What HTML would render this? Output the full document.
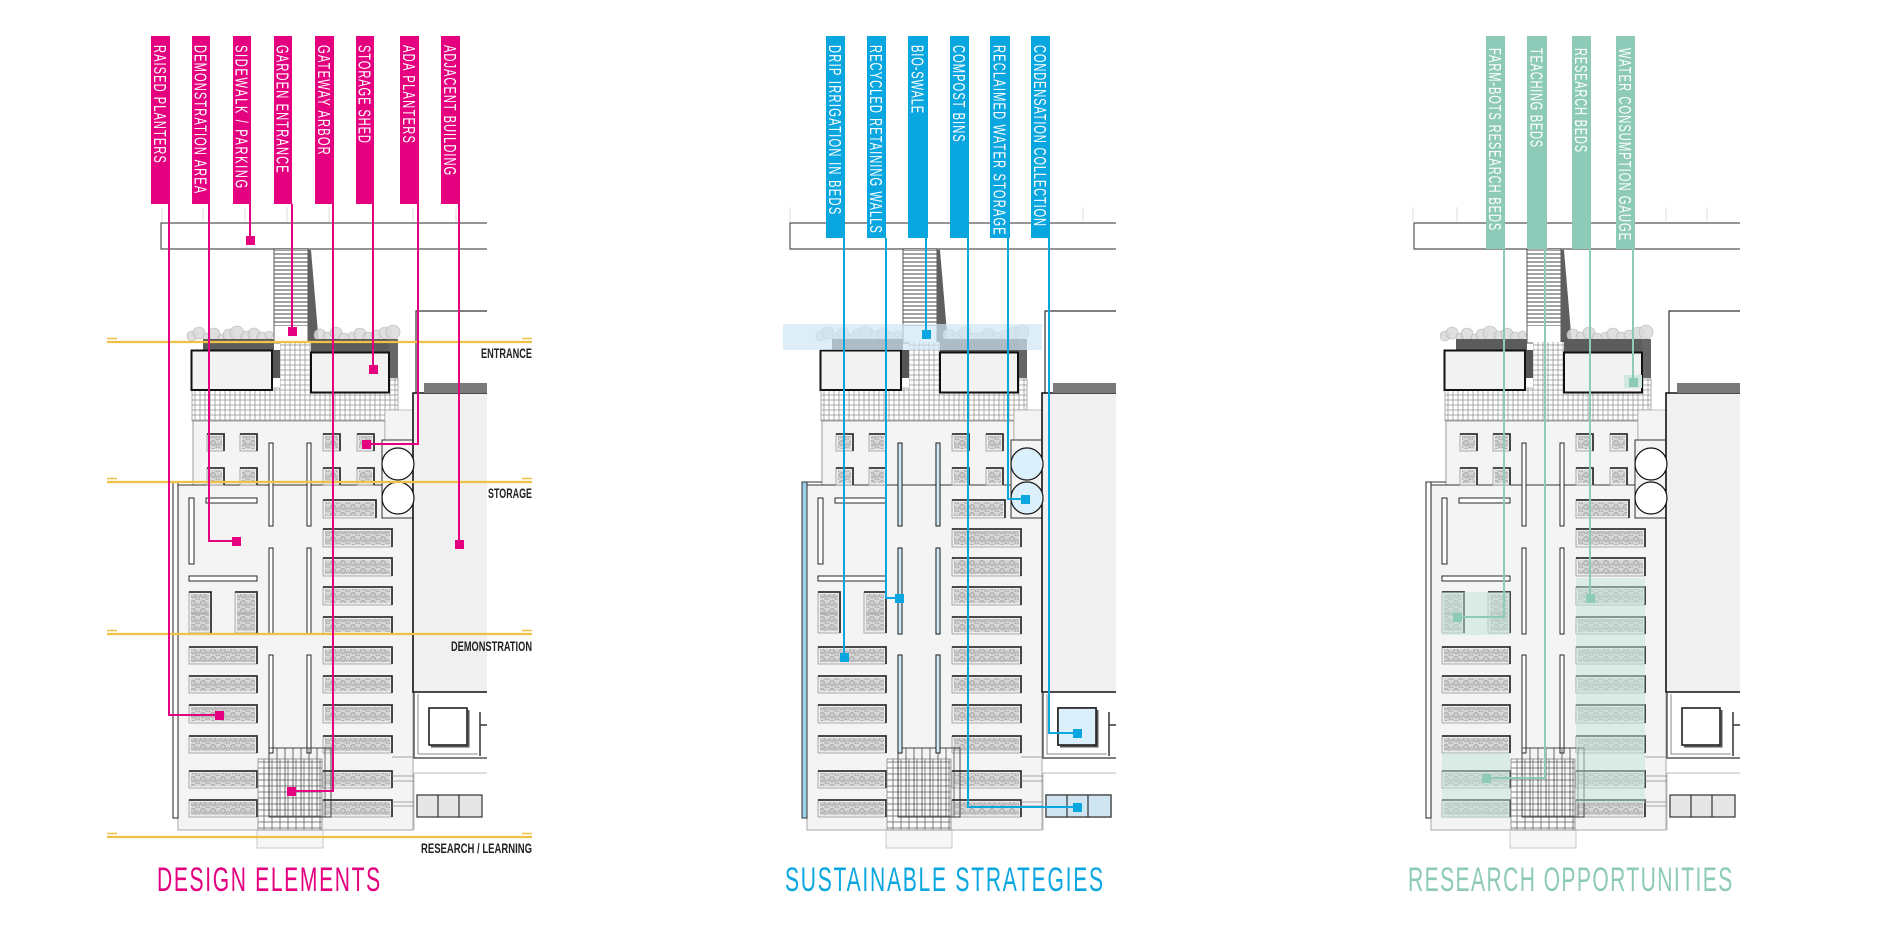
<!DOCTYPE html>
<html><head><meta charset="utf-8"><style>
html,body{margin:0;padding:0;background:#fff;}
svg{display:block;}
.vl{font-family:"Liberation Sans",sans-serif;font-size:18px;fill:#fff;}
.sec{font-family:"Liberation Sans",sans-serif;font-size:14px;font-weight:bold;fill:#222;}
.ttl{font-family:"Liberation Sans",sans-serif;font-size:34px;}
</style></head><body>
<svg width="1900" height="927" viewBox="0 0 1900 927" xmlns="http://www.w3.org/2000/svg">
<defs>
<pattern id="pave" width="5" height="5" patternUnits="userSpaceOnUse"><rect width="5" height="5" fill="#fff" stroke="#8c8c8c" stroke-width="0.7"/></pattern>
<pattern id="pave2" width="8" height="6" patternUnits="userSpaceOnUse"><rect width="8" height="6" fill="#fafafa" stroke="#666" stroke-width="0.8"/></pattern>
<pattern id="stairs" width="40" height="4" patternUnits="userSpaceOnUse"><rect width="40" height="4" fill="#fff"/><line x1="0" y1="2" x2="40" y2="2" stroke="#444" stroke-width="1"/></pattern>
<pattern id="tex" width="10" height="8" patternUnits="userSpaceOnUse"><rect width="10" height="8" fill="#d6d6d6"/><circle cx="3" cy="3" r="2.4" fill="#cbcbcb" stroke="#8f8f8f" stroke-width="0.6"/><circle cx="8" cy="6" r="2.2" fill="#cbcbcb" stroke="#9a9a9a" stroke-width="0.6"/></pattern>
<g id="plan">
  <path d="M487,223H161V249H487" fill="none" stroke="#555" stroke-width="1.2"/>
  <path d="M487,311H416V393" fill="none" stroke="#333" stroke-width="1.2"/>
  <rect x="274" y="249" width="34" height="94" fill="#fff" stroke="#333" stroke-width="0.8"/>
  <rect x="274.5" y="250" width="33" height="76" fill="url(#stairs)"/>
  <polygon points="308,250 311,250 319,345 308,345" fill="#5f5f5f"/>
  <g fill="#d9d9d9" fill-opacity="0.85" stroke="#b5b5b5" stroke-width="0.6">
    <circle cx="192" cy="336" r="5"/><circle cx="199" cy="333" r="6"/><circle cx="207" cy="337" r="4"/><circle cx="214" cy="334" r="6"/><circle cx="222" cy="338" r="4"/><circle cx="229" cy="335" r="6"/><circle cx="237" cy="333" r="7"/><circle cx="246" cy="336" r="5"/><circle cx="254" cy="334" r="6"/><circle cx="262" cy="337" r="5"/><circle cx="269" cy="335" r="4"/>
    <circle cx="320" cy="335" r="6"/><circle cx="328" cy="337" r="5"/><circle cx="336" cy="333" r="6"/><circle cx="344" cy="338" r="5"/><circle cx="352" cy="336" r="4"/><circle cx="360" cy="334" r="6"/><circle cx="368" cy="337" r="5"/><circle cx="376" cy="335" r="5"/><circle cx="385" cy="333" r="6"/><circle cx="393" cy="332" r="7"/>
  </g>
  <rect x="203" y="339" width="71" height="13" fill="#5c5c5c"/>
  <rect x="308" y="339" width="90" height="13" fill="#5c5c5c"/>
  <rect x="389" y="339" width="9" height="42" fill="#666"/>
  <rect x="272" y="350" width="8" height="28" fill="#555"/>
  <path d="M192,388H389V378H398V410H389V421H192Z" fill="url(#pave)" stroke="#777" stroke-width="0.6"/>
  <rect x="280" y="342" width="31" height="48" fill="url(#pave)"/>
  <rect x="191.5" y="350.5" width="80.5" height="39.5" fill="#f2f2f2" stroke="#111" stroke-width="2"/>
  <rect x="311" y="352.5" width="78" height="40" fill="#f2f2f2" stroke="#111" stroke-width="2"/>
  <rect x="193" y="421" width="192" height="64" fill="#f4f4f4" stroke="#888" stroke-width="0.8"/>
  <rect x="385" y="410" width="28" height="30" fill="#f4f4f4" stroke="#999" stroke-width="0.6"/>
  <rect x="178" y="485" width="235" height="345" fill="#f4f4f4" stroke="#aaa" stroke-width="1"/>
  <rect x="173" y="482" width="5" height="336" fill="#fff" stroke="#222" stroke-width="1"/>
  <path d="M173,482H193M178,485H382" fill="none" stroke="#333" stroke-width="1"/>
  <rect x="382" y="440" width="31" height="78" fill="#f4f4f4" stroke="#333" stroke-width="1"/>
  <rect x="413" y="393" width="74" height="299" fill="#f0f0f0"/>
  <path d="M487,393H413V692H487" fill="none" stroke="#111" stroke-width="1.6"/>
  <rect x="424" y="383" width="63" height="10" fill="#7a7a7a"/>
  <circle cx="398" cy="464" r="16" fill="#fff" stroke="#111" stroke-width="1.2"/>
  <circle cx="398" cy="498" r="16" fill="#fff" stroke="#111" stroke-width="1.2"/>
  <g>
    <rect x="207" y="434" width="17" height="17" fill="#ececec" stroke="#9a9a9a" stroke-width=".8"/><rect x="209" y="436" width="13" height="13" fill="url(#tex)"/><path d="M207,434H224V451" fill="none" stroke="#333" stroke-width="1.8"/>
    <rect x="240" y="434" width="17" height="17" fill="#ececec" stroke="#9a9a9a" stroke-width=".8"/><rect x="242" y="436" width="13" height="13" fill="url(#tex)"/><path d="M240,434H257V451" fill="none" stroke="#333" stroke-width="1.8"/>
    <rect x="323" y="434" width="17" height="17" fill="#ececec" stroke="#9a9a9a" stroke-width=".8"/><rect x="325" y="436" width="13" height="13" fill="url(#tex)"/><path d="M323,434H340V451" fill="none" stroke="#333" stroke-width="1.8"/>
    <rect x="357" y="434" width="17" height="17" fill="#ececec" stroke="#9a9a9a" stroke-width=".8"/><rect x="359" y="436" width="13" height="13" fill="url(#tex)"/><path d="M357,434H374V451" fill="none" stroke="#333" stroke-width="1.8"/>
    <rect x="207" y="468" width="17" height="17" fill="#ececec" stroke="#9a9a9a" stroke-width=".8"/><rect x="209" y="470" width="13" height="13" fill="url(#tex)"/><path d="M207,468H224V485" fill="none" stroke="#333" stroke-width="1.8"/>
    <rect x="240" y="468" width="17" height="17" fill="#ececec" stroke="#9a9a9a" stroke-width=".8"/><rect x="242" y="470" width="13" height="13" fill="url(#tex)"/><path d="M240,468H257V485" fill="none" stroke="#333" stroke-width="1.8"/>
    <rect x="323" y="468" width="17" height="17" fill="#ececec" stroke="#9a9a9a" stroke-width=".8"/><rect x="325" y="470" width="13" height="13" fill="url(#tex)"/><path d="M323,468H340V485" fill="none" stroke="#333" stroke-width="1.8"/>
    <rect x="357" y="468" width="17" height="17" fill="#ececec" stroke="#9a9a9a" stroke-width=".8"/><rect x="359" y="470" width="13" height="13" fill="url(#tex)"/><path d="M357,468H374V485" fill="none" stroke="#333" stroke-width="1.8"/>
  </g>
  <g fill="#fff" stroke="#111" stroke-width=".9">
    <rect x="269" y="443" width="4" height="83"/><rect x="307" y="443" width="4" height="83"/>
    <rect x="269" y="548" width="4" height="86"/><rect x="307" y="548" width="4" height="86"/>
    <rect x="269" y="655" width="4" height="98"/><rect x="307" y="655" width="4" height="98"/>
  </g>
  <g fill="#fff" stroke="#111" stroke-width=".9">
    <rect x="206" y="498" width="51" height="5"/>
    <rect x="189" y="498" width="5" height="66"/>
    <rect x="189" y="576" width="68" height="5"/>
  </g>
  <rect x="189" y="592" width="22" height="41" fill="#ececec" stroke="#9a9a9a" stroke-width=".8"/><rect x="191" y="594" width="18" height="37" fill="url(#tex)"/><path d="M191,614H209" stroke="#999" stroke-width=".8"/><path d="M189,592H211V633" fill="none" stroke="#333" stroke-width="1.8"/>
  <rect x="235" y="592" width="22" height="41" fill="#ececec" stroke="#9a9a9a" stroke-width=".8"/><rect x="237" y="594" width="18" height="37" fill="url(#tex)"/><path d="M237,614H255" stroke="#999" stroke-width=".8"/><path d="M235,592H257V633" fill="none" stroke="#333" stroke-width="1.8"/>
  <g>
    <rect x="323" y="500" width="53" height="18" fill="#ececec" stroke="#9a9a9a" stroke-width=".8"/><rect x="325" y="502" width="49" height="14" fill="url(#tex)"/><path d="M323,500H376V518" fill="none" stroke="#333" stroke-width="1.8"/>
    <rect x="323" y="529" width="69" height="18" fill="#ececec" stroke="#9a9a9a" stroke-width=".8"/><rect x="325" y="531" width="65" height="14" fill="url(#tex)"/><path d="M323,529H392V547" fill="none" stroke="#333" stroke-width="1.8"/>
    <rect x="323" y="558" width="69" height="18" fill="#ececec" stroke="#9a9a9a" stroke-width=".8"/><rect x="325" y="560" width="65" height="14" fill="url(#tex)"/><path d="M323,558H392V576" fill="none" stroke="#333" stroke-width="1.8"/>
    <rect x="323" y="587" width="69" height="18" fill="#ececec" stroke="#9a9a9a" stroke-width=".8"/><rect x="325" y="589" width="65" height="14" fill="url(#tex)"/><path d="M323,587H392V605" fill="none" stroke="#333" stroke-width="1.8"/>
    <rect x="323" y="617" width="69" height="17" fill="#ececec" stroke="#9a9a9a" stroke-width=".8"/><rect x="325" y="619" width="65" height="13" fill="url(#tex)"/><path d="M323,617H392V634" fill="none" stroke="#333" stroke-width="1.8"/>
    <rect x="323" y="647" width="69" height="17" fill="#ececec" stroke="#9a9a9a" stroke-width=".8"/><rect x="325" y="649" width="65" height="13" fill="url(#tex)"/><path d="M323,647H392V664" fill="none" stroke="#333" stroke-width="1.8"/>
    <rect x="323" y="676" width="69" height="17" fill="#ececec" stroke="#9a9a9a" stroke-width=".8"/><rect x="325" y="678" width="65" height="13" fill="url(#tex)"/><path d="M323,676H392V693" fill="none" stroke="#333" stroke-width="1.8"/>
    <rect x="323" y="705" width="69" height="18" fill="#ececec" stroke="#9a9a9a" stroke-width=".8"/><rect x="325" y="707" width="65" height="14" fill="url(#tex)"/><path d="M323,705H392V723" fill="none" stroke="#333" stroke-width="1.8"/>
    <rect x="323" y="736" width="69" height="17" fill="#ececec" stroke="#9a9a9a" stroke-width=".8"/><rect x="325" y="738" width="65" height="13" fill="url(#tex)"/><path d="M323,736H392V753" fill="none" stroke="#333" stroke-width="1.8"/>
    <rect x="323" y="771" width="69" height="17" fill="#ececec" stroke="#9a9a9a" stroke-width=".8"/><rect x="325" y="773" width="65" height="13" fill="url(#tex)"/><path d="M323,771H392V788" fill="none" stroke="#333" stroke-width="1.8"/>
    <rect x="323" y="800" width="69" height="17" fill="#ececec" stroke="#9a9a9a" stroke-width=".8"/><rect x="325" y="802" width="65" height="13" fill="url(#tex)"/><path d="M323,800H392V817" fill="none" stroke="#333" stroke-width="1.8"/>
  </g>
  <g>
    <rect x="189" y="647" width="68" height="17" fill="#ececec" stroke="#9a9a9a" stroke-width=".8"/><rect x="191" y="649" width="64" height="13" fill="url(#tex)"/><path d="M189,647H257V664" fill="none" stroke="#333" stroke-width="1.8"/>
    <rect x="189" y="676" width="68" height="17" fill="#ececec" stroke="#9a9a9a" stroke-width=".8"/><rect x="191" y="678" width="64" height="13" fill="url(#tex)"/><path d="M189,676H257V693" fill="none" stroke="#333" stroke-width="1.8"/>
    <rect x="189" y="705" width="68" height="18" fill="#ececec" stroke="#9a9a9a" stroke-width=".8"/><rect x="191" y="707" width="64" height="14" fill="url(#tex)"/><path d="M189,705H257V723" fill="none" stroke="#333" stroke-width="1.8"/>
    <rect x="189" y="736" width="68" height="17" fill="#ececec" stroke="#9a9a9a" stroke-width=".8"/><rect x="191" y="738" width="64" height="13" fill="url(#tex)"/><path d="M189,736H257V753" fill="none" stroke="#333" stroke-width="1.8"/>
    <rect x="189" y="771" width="68" height="17" fill="#ececec" stroke="#9a9a9a" stroke-width=".8"/><rect x="191" y="773" width="64" height="13" fill="url(#tex)"/><path d="M189,771H257V788" fill="none" stroke="#333" stroke-width="1.8"/>
    <rect x="189" y="800" width="68" height="17" fill="#ececec" stroke="#9a9a9a" stroke-width=".8"/><rect x="191" y="802" width="64" height="13" fill="url(#tex)"/><path d="M189,800H257V817" fill="none" stroke="#333" stroke-width="1.8"/>
  </g>
  <rect x="257" y="830" width="66" height="18" fill="#f7f7f7" stroke="#bbb" stroke-width="0.8"/>
  <rect x="258" y="759" width="64" height="71" fill="url(#pave2)" stroke="#888" stroke-width=".8"/>
  <rect x="269" y="748" width="62" height="69" fill="none" stroke="#333" stroke-width="0.9"/>
  <path d="M277,748V817M285,748V817M293,748V817M301,748V817M309,748V817M317,748V817M325,748V817" stroke="#333" stroke-width="0.7"/>
  <path d="M414,692V758H487" fill="none" stroke="#333" stroke-width="1.2"/>
  <path d="M418,694V754H478" fill="none" stroke="#666" stroke-width="0.8"/>
  <path d="M480,712V756M480,725H487" fill="none" stroke="#333" stroke-width="1.5"/>
  <rect x="429" y="708" width="38" height="37" fill="#fff" stroke="#222" stroke-width="1.6"/>
  <path d="M431,746.5H468.5V710" fill="none" stroke="#555" stroke-width="2"/>
  <path d="M414,773H487M414,773V830" fill="none" stroke="#bbb" stroke-width="1"/>
  <path d="M392,757H414M392,776H414M392,781H414M392,802H414M392,806H414" stroke="#888" stroke-width="0.7"/>
  <rect x="417" y="795" width="65" height="22" fill="#e6e6e6" stroke="#333" stroke-width="1.2"/>
  <path d="M438,795V817M459,795V817" stroke="#333" stroke-width="1.2"/>
</g>
</defs>

<rect width="1900" height="927" fill="#fff"/>

<path d="M162,207V222M203,207V222M245,207V222M287,207V222M329,207V222M413,207V222M456,207V222M790,207V222M1083,207V222M1413,207V222M1457,207V222M1545,207V222M1588,207V222M1666,207V222M1707,207V222" stroke="#dcdcdc" stroke-width="1"/>

<use href="#plan"/>
<use href="#plan" transform="translate(629,0)"/>
<use href="#plan" transform="translate(1253,0)"/>

<!-- ===== Panel 1 overlays ===== -->
<g stroke="#f1c047" fill="none">
  <path d="M107,342H532M107,482H532M107,634H532M107,837H532" stroke-width="2.2"/>
  <path d="M107,338.5H117M522,338.5H532M107,478.5H117M522,478.5H532M107,630.5H117M522,630.5H532M107,833.5H117M522,833.5H532" stroke-width="1.6"/>
</g>
<text class="sec" x="532" y="358" text-anchor="end" textLength="51" lengthAdjust="spacingAndGlyphs">ENTRANCE</text>
<text class="sec" x="532" y="498" text-anchor="end" textLength="44" lengthAdjust="spacingAndGlyphs">STORAGE</text>
<text class="sec" x="532" y="651" text-anchor="end" textLength="81" lengthAdjust="spacingAndGlyphs">DEMONSTRATION</text>
<text class="sec" x="532" y="853" text-anchor="end" textLength="111" lengthAdjust="spacingAndGlyphs">RESEARCH / LEARNING</text>

<g fill="#e4007f">
  <rect x="151" y="36" width="19" height="168"/><rect x="192" y="36" width="18" height="168"/><rect x="233" y="36" width="18" height="168"/><rect x="274" y="36" width="18" height="168"/>
  <rect x="315" y="36" width="19" height="168"/><rect x="356" y="36" width="18" height="168"/><rect x="400" y="36" width="19" height="168"/><rect x="441" y="36" width="19" height="168"/>
</g>
<g stroke="#e4007f" stroke-width="2" fill="none">
  <path d="M169,204V715H219M209,204V541H236M250,204V240M292,204V331M333,204V791H291M373,204V369M418,204V444H366M459,204V544"/>
</g>
<g fill="#e4007f">
  <rect x="215" y="711" width="9" height="9"/><rect x="232" y="537" width="9" height="9"/><rect x="246" y="236" width="9" height="9"/><rect x="288" y="327" width="9" height="9"/>
  <rect x="287" y="787" width="9" height="9"/><rect x="369" y="365" width="9" height="9"/><rect x="362" y="440" width="9" height="9"/><rect x="455" y="540" width="9" height="9"/>
</g>
<g class="vl">
  <text transform="translate(160.5,45) rotate(90) scale(0.62,1)" y="6.5" textLength="190" lengthAdjust="spacing">RAISED PLANTERS</text>
  <text transform="translate(201,45) rotate(90) scale(0.62,1)" y="6.5" textLength="239" lengthAdjust="spacing">DEMONSTRATION AREA</text>
  <text transform="translate(242,45) rotate(90) scale(0.62,1)" y="6.5" textLength="231" lengthAdjust="spacing">SIDEWALK / PARKING</text>
  <text transform="translate(283,45) rotate(90) scale(0.62,1)" y="6.5" textLength="206" lengthAdjust="spacing">GARDEN ENTRANCE</text>
  <text transform="translate(324.5,45) rotate(90) scale(0.62,1)" y="6.5" textLength="177" lengthAdjust="spacing">GATEWAY ARBOR</text>
  <text transform="translate(365,45) rotate(90) scale(0.62,1)" y="6.5" textLength="158" lengthAdjust="spacing">STORAGE SHED</text>
  <text transform="translate(409.5,45) rotate(90) scale(0.62,1)" y="6.5" textLength="158" lengthAdjust="spacing">ADA PLANTERS</text>
  <text transform="translate(450.5,45) rotate(90) scale(0.62,1)" y="6.5" textLength="210" lengthAdjust="spacing">ADJACENT BUILDING</text>
</g>
<text class="ttl" transform="translate(157,891) scale(0.62,1)" fill="#e4007f" textLength="360" lengthAdjust="spacing">DESIGN ELEMENTS</text>

<!-- ===== Panel 2 overlays ===== -->
<rect x="783" y="324" width="259" height="26" fill="#cfe7f6" opacity="0.7"/>
<circle cx="1027" cy="464" r="16" fill="#dcf0fb" stroke="#222" stroke-width="1.2"/>
<circle cx="1027" cy="498" r="16" fill="#dcf0fb" stroke="#222" stroke-width="1.2"/>
<rect x="802" y="482" width="5" height="336" fill="#9fd0ea" stroke="#333" stroke-width="1"/>
<g fill="#cfe8f6" stroke="#111" stroke-width=".9">
  <rect x="898" y="443" width="4" height="83"/><rect x="936" y="443" width="4" height="83"/>
  <rect x="898" y="548" width="4" height="86"/><rect x="936" y="548" width="4" height="86"/>
  <rect x="898" y="655" width="4" height="98"/><rect x="936" y="655" width="4" height="98"/>
</g>
<rect x="1058" y="708" width="38" height="37" fill="#dcf0fb" stroke="#222" stroke-width="1.6"/>
<rect x="1046" y="795" width="65" height="22" fill="#cfe6f2" stroke="#333" stroke-width="1.2"/>
<path d="M1067,795V817M1088,795V817" stroke="#333" stroke-width="1.2"/>
<g fill="#0aa6e0">
  <rect x="826" y="36" width="19" height="202"/><rect x="867" y="36" width="19" height="202"/><rect x="908" y="36" width="20" height="202"/>
  <rect x="950" y="36" width="19" height="202"/><rect x="990" y="36" width="20" height="202"/><rect x="1031" y="36" width="19" height="202"/>
</g>
<g stroke="#0aa6e0" stroke-width="2" fill="none">
  <path d="M844,238V657M886,238V598H899M926,238V334M968,238V807H1077M1008,238V499H1025M1049,238V733H1077"/>
</g>
<g fill="#0aa6e0">
  <rect x="840" y="653" width="9" height="9"/><rect x="895" y="594" width="9" height="9"/><rect x="922" y="330" width="9" height="9"/>
  <rect x="1073" y="803" width="9" height="9"/><rect x="1021" y="495" width="9" height="9"/><rect x="1073" y="729" width="9" height="9"/>
</g>
<g class="vl">
  <text transform="translate(835.5,45) rotate(90) scale(0.62,1)" y="6.5" textLength="273" lengthAdjust="spacing">DRIP IRRIGATION IN BEDS</text>
  <text transform="translate(876.5,45) rotate(90) scale(0.62,1)" y="6.5" textLength="303" lengthAdjust="spacing">RECYCLED RETAINING WALLS</text>
  <text transform="translate(918,45) rotate(90) scale(0.62,1)" y="6.5" textLength="110" lengthAdjust="spacing">BIO-SWALE</text>
  <text transform="translate(959.5,45) rotate(90) scale(0.62,1)" y="6.5" textLength="156" lengthAdjust="spacing">COMPOST BINS</text>
  <text transform="translate(1000,45) rotate(90) scale(0.62,1)" y="6.5" textLength="306" lengthAdjust="spacing">RECLAIMED WATER STORAGE</text>
  <text transform="translate(1040.5,45) rotate(90) scale(0.62,1)" y="6.5" textLength="292" lengthAdjust="spacing">CONDENSATION COLLECTION</text>
</g>
<text class="ttl" transform="translate(785,891) scale(0.62,1)" fill="#0aa6e0" textLength="513" lengthAdjust="spacing">SUSTAINABLE STRATEGIES</text>

<!-- ===== Panel 3 overlays ===== -->
<g fill="#bfe3d6" opacity="0.5">
  <rect x="1576" y="578" width="69" height="225"/>
  <rect x="1442" y="753" width="68" height="65"/>
  <rect x="1442" y="592" width="68" height="43"/>
</g>
<rect x="1624" y="375" width="18" height="13" fill="#cfe9df"/>
<g fill="#8dcab7">
  <rect x="1486" y="36" width="19" height="213"/><rect x="1527" y="36" width="20" height="213"/><rect x="1572" y="36" width="19" height="213"/><rect x="1616" y="36" width="19" height="213"/>
</g>
<g stroke="#8dcab7" stroke-width="2" fill="none">
  <path d="M1504,249V617H1457M1545,249V778H1486M1590,249V598M1633,249V382"/>
</g>
<g fill="#8dcab7">
  <rect x="1453" y="613" width="9" height="9"/><rect x="1482" y="774" width="9" height="9"/><rect x="1586" y="594" width="9" height="9"/><rect x="1629" y="378" width="9" height="9"/>
</g>
<g class="vl">
  <text transform="translate(1495.5,48) rotate(90) scale(0.62,1)" y="6.5" textLength="294" lengthAdjust="spacing">FARM-BOTS RESEARCH BEDS</text>
  <text transform="translate(1537,48) rotate(90) scale(0.62,1)" y="6.5" textLength="160" lengthAdjust="spacing">TEACHING BEDS</text>
  <text transform="translate(1581.5,48) rotate(90) scale(0.62,1)" y="6.5" textLength="168" lengthAdjust="spacing">RESEARCH BEDS</text>
  <text transform="translate(1625.5,48) rotate(90) scale(0.62,1)" y="6.5" textLength="310" lengthAdjust="spacing">WATER CONSUMPTION GAUGE</text>
</g>
<text class="ttl" transform="translate(1408,891) scale(0.62,1)" fill="#8dcab7" textLength="523" lengthAdjust="spacing">RESEARCH OPPORTUNITIES</text>
</svg>
</body></html>
